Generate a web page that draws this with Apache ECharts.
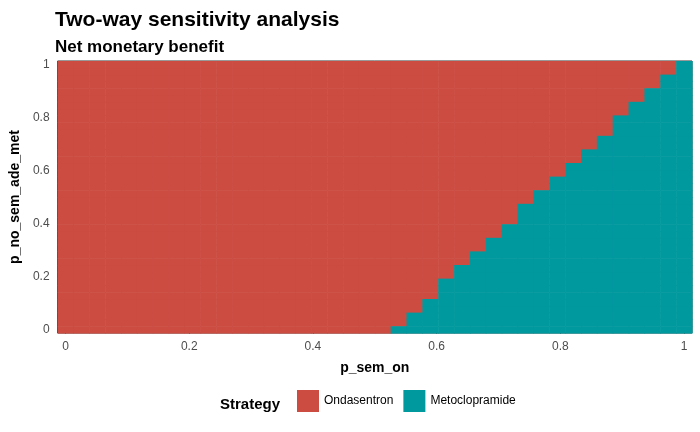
<!DOCTYPE html>
<html><head><meta charset="utf-8">
<script src="https://cdn.jsdelivr.net/npm/echarts@6/dist/echarts.min.js"></script>
<style>html,body{margin:0;padding:0;background:#fff}#c{width:700px;height:432px}</style>
</head><body><div id="c"></div>
<script>
const nGrid = 40; // grid points 0..1 per axis
const strategies = ['Ondasentron', 'Metoclopramide'];
const colors = ['#CC4C42', '#00999E'];
// number of Metoclopramide (teal) rows from the bottom, for columns 21..39
const firstTealCol = 21;
const tealRows = [1,3,5,8,10,12,14,16,19,21,23,25,27,29,32,34,36,38,40];
const tickValues = [0, 0.2, 0.4, 0.6, 0.8, 1];

const step = 1 / (nGrid - 1);
const dataO = [], dataM = [];
for (let i = 0; i < nGrid; i++) {
  const k = i - firstTealCol;
  const teal = k >= 0 ? tealRows[k] : 0;
  for (let j = 0; j < nGrid; j++) {
    const pt = [i * step, j * step];
    if (j < teal) dataM.push(pt); else dataO.push(pt);
  }
}
function renderCell(params, api) {
  const x = api.value(0), y = api.value(1);
  const p0 = api.coord([x - step / 2, y + step / 2]);
  const p1 = api.coord([x + step / 2, y - step / 2]);
  return { type: 'rect', shape: { x: p0[0], y: p0[1], width: p1[0] - p0[0] + 0.6, height: p1[1] - p0[1] + 0.6 },
           style: { fill: api.visual('color') } };
}
const axisCommon = {
  type: 'value', min: -step / 2, max: 1 + step / 2,
  splitLine: { show: false }, axisLine: { show: false },
  axisTick: { show: true, customValues: tickValues, length: 4, lineStyle: { color: '#333' } },
  axisLabel: { customValues: tickValues, color: '#4d4d4d', fontSize: 12, fontFamily: 'Liberation Sans, Arial',
               formatter: v => String(Math.round(v * 10) / 10) },
  nameLocation: 'middle',
  nameTextStyle: { fontWeight: 'bold', fontSize: 14, color: '#000', fontFamily: 'Liberation Sans, Arial' }
};
const chart = echarts.init(document.getElementById('c'));
chart.setOption({
  animation: false,
  title: [
    { text: 'Two-way sensitivity analysis', left: 50, top: 5,
      textStyle: { fontSize: 21, fontWeight: 'bold', color: '#000', fontFamily: 'Liberation Sans, Arial' } },
    { text: 'Net monetary benefit', left: 50, top: 34,
      textStyle: { fontSize: 17, fontWeight: 'bold', color: '#000', fontFamily: 'Liberation Sans, Arial' } }
  ],
  grid: { left: 50, right: 8, top: 61, bottom: 99, show: true, borderColor: '#333', borderWidth: 1, backgroundColor: 'transparent' },
  xAxis: Object.assign({}, axisCommon, { name: 'p_sem_on', nameGap: 28 }),
  yAxis: Object.assign({}, axisCommon, { name: 'p_no_sem_ade_met', nameGap: 32 }),
  legend: { bottom: 15, left: 292, itemWidth: 22, itemHeight: 22, itemGap: 10, icon: 'rect',
            textStyle: { fontSize: 12, color: '#000', fontFamily: 'Liberation Sans, Arial' },
            data: strategies },
  graphic: [{ type: 'text', left: 220, top: 397,
              style: { text: 'Strategy', font: 'bold 15px Liberation Sans, Arial', fill: '#000' } }],
  series: [
    { name: strategies[0], type: 'custom', renderItem: renderCell, data: dataO, itemStyle: { color: colors[0] }, z: 1 },
    { name: strategies[1], type: 'custom', renderItem: renderCell, data: dataM, itemStyle: { color: colors[1] }, z: 1 }
  ]
});
</script></body></html>
